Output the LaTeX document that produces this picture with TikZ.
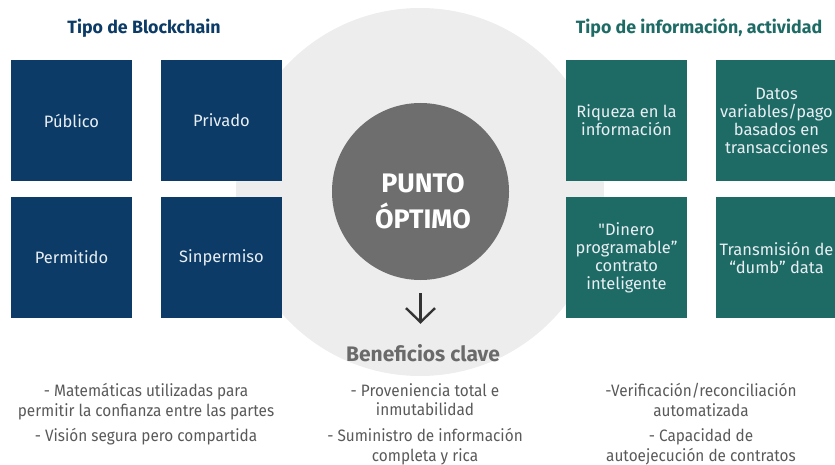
\documentclass[tikz,border=0pt]{standalone}
\usepackage{fontspec}
\setmainfont{Fira Sans}[Ligatures=TeXOff]
\newfontfamily\angosta[FakeStretch=0.93]{Fira Sans}
\usepackage{pgf,tikz}
\usetikzlibrary{arrows.meta}

\definecolor{azul}{HTML}{0B3B66}
\definecolor{verde}{HTML}{1E6B66}
\definecolor{grisclaro}{HTML}{EDEDED}
\definecolor{grisoscuro}{HTML}{6E6E6E}
\definecolor{grisbenef}{HTML}{6A6A6A}
\definecolor{textogris}{HTML}{595959}
\definecolor{flechagris}{HTML}{333333}
\definecolor{letraclara}{HTML}{E9EEF3}

\begin{document}
\begin{tikzpicture}[x=1pt,y=-1pt]
\tikzstyle{caja}=[rectangle,minimum width=121pt,minimum height=121pt,inner sep=0pt,align=center,text=letraclara,font=\fontsize{16.5}{18}\selectfont]
\tikzstyle{cajaazul}=[caja,fill=azul]
\tikzstyle{cajaverde}=[caja,fill=verde]
\tikzstyle{titulo}=[anchor=base,inner sep=0pt,font=\fontsize{17.8}{20}\selectfont\bfseries]
\tikzstyle{nota}=[anchor=north,inner sep=0pt,align=center,text=textogris,font=\angosta\fontsize{16.5}{18}\selectfont]
\tikzstyle{flecha}=[draw=flechagris,line width=2.4pt,-{Straight Barb[length=14pt,width=29pt]}]

\useasboundingbox (0,0) rectangle (835,465);

\node[circle,fill=grisclaro,minimum size=368pt,inner sep=0pt] (fondo) at (420,192) {};
\node[circle,fill=grisoscuro,minimum size=177pt,inner sep=0pt] (centro) at (420.5,191.5) {};
\node[anchor=north,inner sep=0pt,text=white,align=center,font=\fontsize{26.8}{31}\selectfont\bfseries] (punto) at (423,171) {\strut PUNTO\\\strut ÓPTIMO};

\node[titulo,text=azul] (tipoblock) at (144,34) {Tipo de Blockchain};
\node[titulo,text=verde] (tipoinfo) at (699,34) {Tipo de información, actividad};

\node[cajaazul] (publico) at (71.5,120.5) {Público};
\node[cajaazul] (privado) at (221.5,120.5) {Privado};
\node[cajaazul] (permitido) at (71.5,257.5) {Permitido};
\node[cajaazul] (sinpermiso) at (221.5,257.5) {Sinpermiso};

\node[cajaverde] (riqueza) at (626.5,120.5) {Riqueza en la\\información};
\node[cajaverde] (datos) at (776.5,120.5) {Datos\\variables/pago\\basados en\\transacciones};
\node[cajaverde] (dinero) at (626.5,257.5) {"Dinero\\programable”\\contrato\\inteligente};
\node[cajaverde] (dumb) at (776.5,257.5) {Transmisión de\\“dumb” data};

\node[anchor=base,inner sep=0pt,text=grisbenef,font=\fontsize{21}{24}\selectfont\bfseries] (beneficios) at (423,361) {Beneficios clave};
\draw[flecha,shorten <=13pt,shorten >=20pt] (centro.south) -- (centro.south |- beneficios.north);

\node[nota] (mate) at (146,383.4) {\strut - Matemáticas utilizadas para\\\strut permitir la confianza entre las partes};
\node[nota] (vision) at (146,428.4) {\strut - Visión segura pero compartida};
\node[nota] (proven) at (425,383.4) {\strut - Proveniencia total e\\\strut inmutabilidad};
\node[nota] (sumin) at (425,428.4) {\strut - Suministro de información\\\strut completa y rica};
\node[nota] (verif) at (701,383.4) {\strut -Verificación/reconciliación\\\strut automatizada};
\node[nota] (capac) at (701,428.4) {\strut - Capacidad de\\\strut autoejecución de contratos};

\end{tikzpicture}
\end{document}
